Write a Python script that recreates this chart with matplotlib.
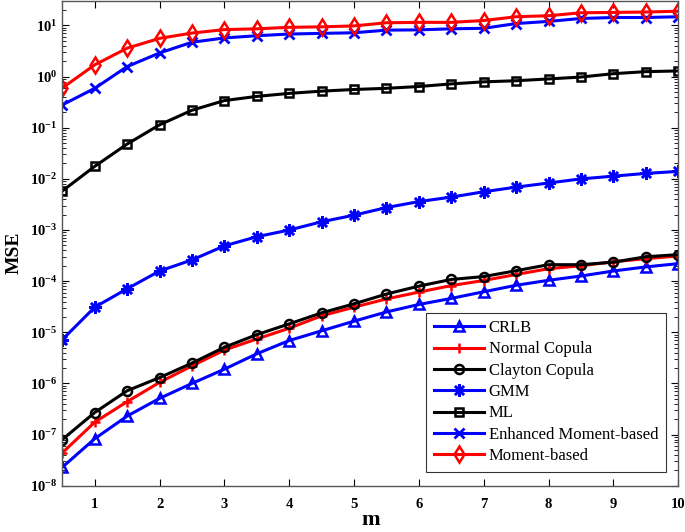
import numpy as np
import matplotlib
matplotlib.use("Agg")
from matplotlib import pyplot as plt
from matplotlib.ticker import LogLocator, NullFormatter

# --------------------------------------------------------------------------------------------------
# Data
# --------------------------------------------------------------------------------------------------

m = [0.5, 1, 1.5, 2, 2.5, 3, 3.5, 4, 4.5, 5, 5.5, 6, 6.5, 7, 7.5, 8, 8.5, 9, 9.5, 10]

crlb = [2.3e-8, 8.3e-8, 2.3e-7, 5.1e-7, 1.0e-6, 1.9e-6, 3.8e-6, 6.9e-6, 1.07e-5, 1.65e-5,
        2.5e-5, 3.5e-5, 4.6e-5, 6.2e-5, 8.3e-5, 1.04e-4, 1.26e-4, 1.58e-4, 1.9e-4, 2.2e-4]
normal_copula = [4.4e-8, 1.75e-7, 4.4e-7, 1.05e-6, 2.2e-6, 4.5e-6, 7.4e-6, 1.2e-5, 2.1e-5, 3.1e-5,
                 4.5e-5, 6.1e-5, 8.2e-5, 1.03e-4, 1.35e-4, 1.75e-4, 2.0e-4, 2.4e-4, 2.75e-4, 3.1e-4]
clayton_copula = [8.0e-8, 2.7e-7, 7.2e-7, 1.3e-6, 2.5e-6, 5.1e-6, 9.0e-6, 1.46e-5, 2.4e-5, 3.6e-5,
                  5.6e-5, 8.0e-5, 1.08e-4, 1.23e-4, 1.6e-4, 2.1e-4, 2.1e-4, 2.35e-4, 3.0e-4, 3.3e-4]
gmm = [7.2e-6, 3.1e-5, 7.1e-5, 1.58e-4, 2.6e-4, 4.9e-4, 7.4e-4, 1.0e-3, 1.45e-3, 1.95e-3,
       2.75e-3, 3.6e-3, 4.4e-3, 5.6e-3, 6.9e-3, 8.3e-3, 1.0e-2, 1.13e-2, 1.28e-2, 1.4e-2]
ml = [0.0058, 0.0176, 0.048, 0.114, 0.22, 0.34, 0.41, 0.47, 0.52, 0.56,
      0.59, 0.64, 0.72, 0.79, 0.83, 0.90, 0.98, 1.14, 1.25, 1.29]
enhanced = [0.28, 0.59, 1.57, 2.9, 4.7, 5.7, 6.3, 6.8, 7.0, 7.2,
            8.1, 8.2, 8.6, 8.8, 10.9, 12.0, 13.7, 14.3, 14.3, 14.8]
moment = [0.6, 1.7, 3.6, 5.6, 7.1, 8.3, 8.6, 9.2, 9.4, 9.8,
          11.3, 11.5, 11.5, 12.5, 14.8, 15.5, 17.7, 18.0, 18.3, 19.0]

x_ticks = [1, 2, 3, 4, 5, 6, 7, 8, 9, 10]

# --------------------------------------------------------------------------------------------------
# Plot
# --------------------------------------------------------------------------------------------------

plt.rcParams['font.family'] = ['Liberation Serif', 'DejaVu Serif']
plt.rcParams['mathtext.fontset'] = 'custom'
plt.rcParams['mathtext.rm'] = 'Liberation Serif:bold'
plt.rcParams['mathtext.it'] = 'Liberation Serif:bold'
plt.rcParams['mathtext.bf'] = 'Liberation Serif:bold'
plt.rcParams['axes.unicode_minus'] = False

fig = plt.figure(figsize=(6.85, 5.32), dpi=100)
ax = fig.add_axes([0.091, 0.087, 0.899, 0.911])

lw = 2.2
ax.plot(m, crlb, color='blue', lw=lw, marker='^', ms=7, mfc='none', mew=1.8, label='CRLB')
ax.plot(m, normal_copula, color='red', lw=lw, marker='+', ms=7, mew=1.8, label='Normal Copula')
ax.plot(m, clayton_copula, color='black', lw=lw, marker='o', ms=6.5, mfc='none', mew=1.8,
        label='Clayton Copula')
ax.plot(m, gmm, color='blue', lw=lw, marker=(8, 2, 0), ms=9, mew=1.8, label='GMM')
ax.plot(m, ml, color='black', lw=lw, marker='s', ms=5.5, mfc='none', mew=1.8, label='ML')
ax.plot(m, enhanced, color='blue', lw=lw, marker='x', ms=7.5, mew=2,
        label='Enhanced Moment-based')
ax.plot(m, moment, color='red', lw=lw, marker='d', ms=8.5, mfc='none', mew=1.8,
        label='Moment-based')

ax.set_yscale('log')
ax.set_xlim(0.5, 10)
ax.set_ylim(1e-8, 30)
ax.set_xticks(x_ticks)
ax.set_yticks([10.0**k for k in range(-8, 2)])
ax.yaxis.set_minor_locator(LogLocator(base=10, subs=np.arange(2, 10), numticks=20))
ax.yaxis.set_minor_formatter(NullFormatter())

ax.tick_params(which='both', direction='in', top=True, right=True, labelsize=10.5)
ax.tick_params(which='major', length=5, width=0.8)
ax.tick_params(which='minor', length=3, width=0.6)
for lab in ax.get_xticklabels() + ax.get_yticklabels():
    lab.set_fontweight('bold')
ax.tick_params(axis='x', pad=9)

for sp in ax.spines.values():
    sp.set_color('#555555')
    sp.set_linewidth(1.0)

ax.set_xlabel('m', fontsize=16, fontweight='bold', labelpad=-1)
ax.set_ylabel('MSE', fontsize=14, fontweight='bold')
ax.yaxis.set_label_coords(-0.064, 0.48)

leg = ax.legend(loc='lower right', bbox_to_anchor=(0.993, 0.012), fontsize=12,
                frameon=True, fancybox=False, edgecolor='black', handlelength=3.0,
                handletextpad=0.3, borderpad=0.45, labelspacing=0.32)
leg.get_frame().set_linewidth(0.8)

fig.savefig('out.png', dpi=100)
